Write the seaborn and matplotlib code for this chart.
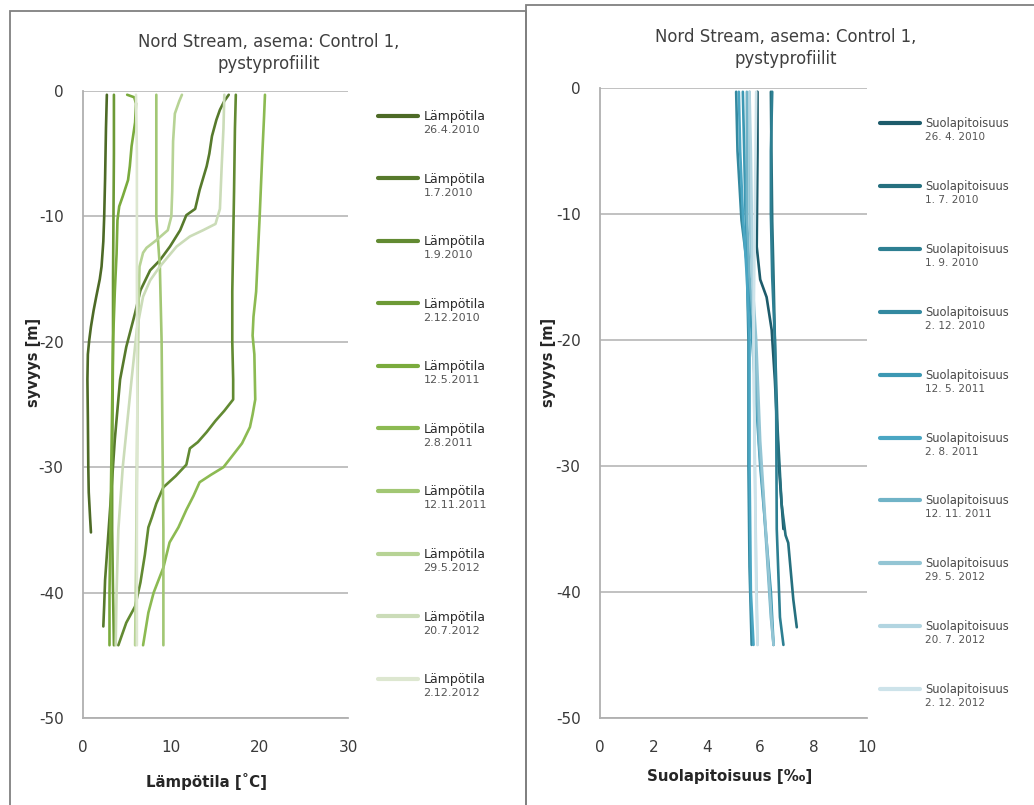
import matplotlib
matplotlib.use("Agg")
import matplotlib.pyplot as plt
from matplotlib.lines import Line2D
from matplotlib.patches import Rectangle
import numpy as np
import pandas as pd
import seaborn as sns

# ---------------------------------------------------------------
# Profile data: (value, depth) pairs for each sampling date
# ---------------------------------------------------------------
dates_temp = ["26.4.2010", "1.7.2010", "1.9.2010", "2.12.2010", "12.5.2011",
              "2.8.2011", "12.11.2011", "29.5.2012", "20.7.2012", "2.12.2012"]
dates_sal = ["26. 4. 2010", "1. 7. 2010", "1. 9. 2010", "2. 12. 2010", "12. 5. 2011",
             "2. 8. 2011", "12. 11. 2011", "29. 5. 2012", "20. 7. 2012", "2. 12. 2012"]

temp_26_4_2010 = [(2.7, -0.3), (2.6, -3), (2.5, -7), (2.4, -10), (2.3, -12), (2.1, -14),
                  (1.9, -15), (1.5, -16.4), (1.2, -17.5), (0.9, -18.8), (0.7, -19.9),
                  (0.55, -21), (0.5, -23), (0.55, -26), (0.6, -30), (0.65, -32),
                  (0.8, -34), (0.9, -35.2)]
temp_1_7_2010 = [(16.5, -0.3), (16.0, -0.8), (15.5, -1.5), (15.1, -2.3), (14.6, -3.6),
                 (14.3, -5), (14.0, -6.0), (13.2, -7.9), (12.7, -9.4), (11.7, -9.9),
                 (11.0, -11.1), (9.85, -12.4), (8.7, -13.5), (7.6, -14.3), (6.5, -15.9),
                 (5.9, -17.7), (4.9, -20.4), (4.2, -23), (3.6, -27.8), (3.2, -32),
                 (2.8, -36), (2.5, -39), (2.4, -41), (2.3, -42.7)]
temp_1_9_2010 = [(17.3, -0.3), (17.2, -3), (17.1, -8), (17.0, -12), (16.9, -16),
                 (16.9, -20), (17.0, -23), (17.0, -24.6), (16.0, -25.5), (15.0, -26.3),
                 (14.0, -27.2), (13.0, -28.0), (12.1, -28.5), (11.7, -29.8), (10.5, -30.7),
                 (9.1, -31.6), (8.3, -32.9), (7.8, -34), (7.4, -34.8), (7.0, -37),
                 (6.5, -39.2), (5.9, -41.1), (4.9, -42.4), (4.5, -43.2), (4.0, -44.2)]
temp_2_12_2010 = [(3.5, -0.3), (3.5, -5), (3.45, -10), (3.4, -15), (3.4, -20),
                  (3.35, -25), (3.3, -30), (3.3, -35), (3.4, -40), (3.5, -44.2)]
temp_12_5_2011 = [(5.0, -0.3), (5.8, -0.5), (6.0, -1), (5.9, -2.5), (5.5, -4.4),
                  (5.3, -6), (5.1, -7.1), (4.5, -8.4), (4.1, -9.2), (3.9, -10.3),
                  (3.8, -13), (3.6, -16), (3.4, -20), (3.3, -25), (3.2, -30),
                  (3.1, -35), (3.0, -40), (3.0, -44.2)]
temp_2_8_2011 = [(20.6, -0.3), (20.5, -2), (20.3, -5), (20.0, -10), (19.8, -13),
                 (19.6, -16), (19.3, -18), (19.2, -19.5), (19.4, -21), (19.5, -24.6),
                 (19.2, -25.8), (18.9, -26.8), (18.0, -28.1), (16.9, -29.1), (15.9, -30),
                 (14.5, -30.6), (13.2, -31.2), (12.5, -32.3), (11.7, -33.4), (10.8, -34.8),
                 (9.8, -36), (9.1, -38), (8.0, -40), (7.4, -41.6), (6.8, -44.2)]
temp_12_11_2011 = [(8.3, -0.3), (8.3, -5), (8.3, -10), (8.5, -12), (8.7, -14),
                   (8.9, -20), (9.0, -28), (9.1, -35), (9.1, -44.2)]
temp_29_5_2012 = [(11.2, -0.3), (10.9, -0.8), (10.4, -1.8), (10.2, -4), (10.1, -8),
                  (10.0, -10), (9.6, -11.1), (8.3, -11.9), (7.2, -12.5), (6.8, -12.9),
                  (6.4, -14), (6.3, -17), (6.2, -22), (6.1, -30), (6.0, -38), (5.9, -44.2)]
temp_20_7_2012 = [(16.0, -0.3), (15.9, -3), (15.7, -6), (15.5, -9.4), (15.0, -10.6),
                  (13.6, -11.1), (12.1, -11.6), (10.6, -12.4), (8.7, -14), (7.6, -15.1),
                  (6.8, -16.4), (6.1, -19), (5.5, -23), (5.0, -26.5), (4.5, -30),
                  (4.0, -35), (3.8, -40), (3.7, -44.2)]
temp_2_12_2012 = [(6.0, -0.3), (6.1, -5), (6.1, -15), (6.15, -25), (6.1, -35), (6.1, -44.2)]

sal_26_4_2010 = [(5.9, -0.3), (5.9, -5), (5.87, -12.6), (6.0, -15.2), (6.24, -16.6),
                 (6.43, -19.2), (6.55, -23.2), (6.7, -30), (6.87, -35)]
sal_1_7_2010 = [(6.4, -0.3), (6.42, -5), (6.45, -10.6), (6.5, -15), (6.55, -20),
                (6.65, -27), (6.8, -33), (6.95, -35.5), (7.05, -36.1), (7.24, -40.6),
                (7.37, -42.8)]
sal_1_9_2010 = [(6.45, -0.3), (6.4, -5), (6.4, -10), (6.45, -15), (6.55, -20),
                (6.6, -26), (6.62, -35), (6.74, -42), (6.87, -44.2)]
sal_2_12_2010 = [(5.1, -0.3), (5.15, -5), (5.3, -10.5), (5.5, -13.9), (5.56, -20),
                 (5.56, -30), (5.6, -38), (5.68, -44.2)]
sal_12_5_2011 = [(5.35, -0.3), (5.4, -5), (5.45, -10), (5.55, -15), (5.7, -20),
                 (5.85, -25), (6.0, -30), (6.2, -35), (6.4, -40), (6.5, -44.2)]
sal_2_8_2011 = [(5.2, -0.3), (5.25, -5), (5.35, -10), (5.5, -15), (5.6, -20),
                (5.6, -30), (5.65, -40), (5.75, -44.2)]
sal_12_11_2011 = [(5.5, -0.3), (5.5, -10), (5.6, -15), (5.8, -20), (5.95, -28),
                  (6.1, -32), (6.25, -37), (6.4, -42), (6.5, -44.2)]
sal_29_5_2012 = [(5.6, -0.3), (5.6, -10), (5.7, -15), (5.85, -20), (6.0, -28),
                 (6.15, -33), (6.3, -38), (6.45, -43), (6.5, -44.2)]
sal_20_7_2012 = [(5.6, -0.3), (5.65, -5), (5.7, -12), (5.75, -20), (5.8, -30),
                 (5.85, -38), (5.9, -44.2)]
sal_2_12_2012 = [(5.85, -0.3), (5.8, -10), (5.75, -20), (5.8, -30), (5.85, -40), (5.9, -44.2)]

temp_profiles = [temp_26_4_2010, temp_1_7_2010, temp_1_9_2010, temp_2_12_2010,
                 temp_12_5_2011, temp_2_8_2011, temp_12_11_2011, temp_29_5_2012,
                 temp_20_7_2012, temp_2_12_2012]
sal_profiles = [sal_26_4_2010, sal_1_7_2010, sal_1_9_2010, sal_2_12_2010,
                sal_12_5_2011, sal_2_8_2011, sal_12_11_2011, sal_29_5_2012,
                sal_20_7_2012, sal_2_12_2012]

temp_colors = ['#4d6a26', '#577a2c', '#628a32', '#6d9a36', '#7aab3d',
               '#8cba52', '#a2c774', '#b7d395', '#cbdcb8', '#dde7d0']
sal_colors = ['#1d5b6b', '#26707f', '#2d7f92', '#3389a0', '#3c98b3',
              '#4aa6c3', '#70b3c7', '#93c5d4', '#b2d5e1', '#cde3ea']

title_lines = ["Nord Stream, asema: Control 1,", "pystyprofiilit"]


def long_frame(profiles, dates):
    rows = []
    for date, prof in zip(dates, profiles):
        for order, (val, depth) in enumerate(prof):
            rows.append({"date": date, "value": val, "depth": depth, "order": order})
    return pd.DataFrame(rows)


df_temp = long_frame(temp_profiles, dates_temp)
df_sal = long_frame(sal_profiles, dates_sal)

# ---------------------------------------------------------------
# Figure
# ---------------------------------------------------------------
sns.set_style("white")
plt.rcParams["font.family"] = ["DejaVu Sans"]
plt.rcParams["axes.unicode_minus"] = False

W, H = 1034, 805
fig = plt.figure(figsize=(W / 100, H / 100), dpi=100)


def fx(px):
    return px / W


def fy(py):
    return 1 - py / H


# panel frames
frame_kw = dict(fill=False, edgecolor="#808080", linewidth=1.3, transform=fig.transFigure)
fig.patches.append(Rectangle((fx(10), fy(830)), fx(516), fy(11) - fy(830), **frame_kw))
fig.patches.append(Rectangle((fx(526), fy(830)), fx(540), fy(5) - fy(830), **frame_kw))

ax_t = fig.add_axes([fx(83), fy(718), fx(348) - fx(83), fy(91) - fy(718)])
ax_s = fig.add_axes([fx(600), fy(718), fx(867) - fx(600), fy(88) - fy(718)])


def style_axis(ax, xmax, xstep):
    ax.set_xlim(0, xmax)
    ax.set_ylim(-50, 0)
    ax.set_xticks(np.arange(0, xmax + 0.001, xstep))
    ax.set_yticks(np.arange(-50, 1, 10))
    ax.grid(axis="y", color="#bcbcbc", linewidth=1.3)
    ax.grid(axis="x", visible=False)
    for side in ("top", "right"):
        ax.spines[side].set_visible(False)
    for side in ("left", "bottom"):
        ax.spines[side].set_color("#b0b0b0")
        ax.spines[side].set_linewidth(1.3)
    ax.tick_params(axis="both", direction="out", length=5, width=1.2, color="#b0b0b0",
                   labelsize=11, labelcolor="#3a3a3a")
    ax.tick_params(axis="x", pad=11)
    ax.tick_params(axis="y", pad=9)
    ax.set_axisbelow(True)


for ax, df, colors, dates in ((ax_t, df_temp, temp_colors, dates_temp),
                              (ax_s, df_sal, sal_colors, dates_sal)):
    sns.lineplot(data=df, x="value", y="depth", hue="date", hue_order=dates,
                 palette=colors, units="date", estimator=None, sort=False,
                 orient="y", linewidth=1.9, legend=False, ax=ax)

style_axis(ax_t, 30, 10)
style_axis(ax_s, 10, 2)

ax_t.set_xlabel("Lämpötila [˚C]", fontsize=10.8, fontweight="bold", color="#262626")
ax_s.set_xlabel("Suolapitoisuus [‰]", fontsize=10.8, fontweight="bold", color="#262626")
ax_t.xaxis.set_label_coords((207 - 83) / 265, -(773 - 718) / 627)
ax_s.xaxis.set_label_coords((730 - 600) / 267, -(769 - 718) / 630)
for ax in (ax_t, ax_s):
    ax.set_ylabel("syvyys [m]", fontsize=10.5, fontweight="bold", color="#262626")
ax_t.yaxis.set_label_coords((41 - 83) / 265, (718 - 362) / 627)
ax_s.yaxis.set_label_coords((556 - 600) / 267, (718 - 362) / 630)

# titles
for cx, y1, y2 in ((269, 42, 64), (786, 37, 59)):
    fig.text(fx(cx), fy(y1), title_lines[0], ha="center", va="center",
             fontsize=11.9, color="#404040")
    fig.text(fx(cx), fy(y2), title_lines[1], ha="center", va="center",
             fontsize=11.9, color="#404040")

# legends: one row per date, variable name on the first line, date below it
legends = []
for colors, dates, name, lx, ly, fs, tcol, spacing, dfs in (
        (temp_colors, dates_temp, "Lämpötila", 378, 110, 9.0, "#2a2a2a", 3.965, 8.0),
        (sal_colors, dates_sal, "Suolapitoisuus", 880, 117, 8.3, "#4a4a4a", 4.33, 7.6)):
    handles = [Line2D([], [], color=c, linewidth=3.0) for c in colors]
    leg = fig.legend(handles, [name] * len(dates), loc="upper left",
                     bbox_to_anchor=(fx(lx), fy(ly)), bbox_transform=fig.transFigure,
                     frameon=False, fontsize=fs, handlelength=40 / 1.389 / fs,
                     handletextpad=0.45, borderpad=0, borderaxespad=0,
                     labelspacing=spacing)
    for t in leg.get_texts():
        t.set_color(tcol)
    legends.append((leg, dates, dfs))

fig.canvas.draw()
renderer = fig.canvas.get_renderer()
for leg, dates, dfs in legends:
    for t, d in zip(leg.get_texts(), dates):
        bb = t.get_window_extent(renderer)
        fig.text(bb.x0 / W, (bb.y0 - 2) / H, d, ha="left", va="top",
                 fontsize=dfs, color="#555555")

fig.savefig("out.png", dpi=100)
